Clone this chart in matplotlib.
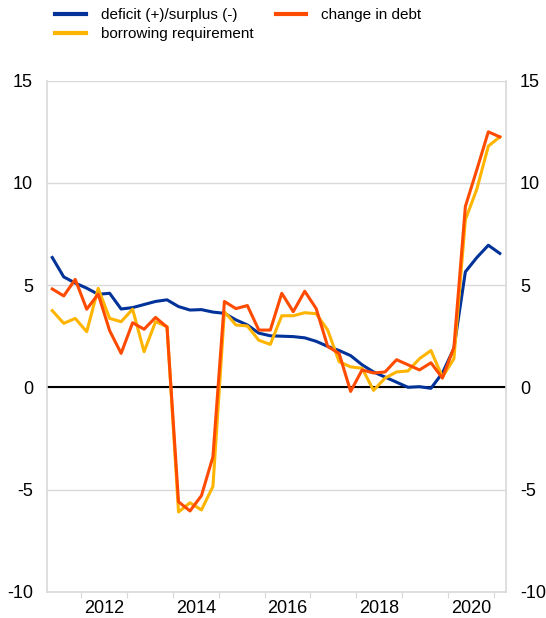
"""
Deficit, borrowing requirement and change in debt, quarterly (% of GDP).
Writes out.png (546 x 618 px).
"""

import numpy as np
import matplotlib
matplotlib.use("Agg")
import matplotlib.pyplot as plt

# ---------- data (quarterly, 2011Q2 onwards) ----------
START = 2011.375          # mid-point of the first quarter
deficit = [6.35, 5.4, 5.1, 4.85, 4.55, 4.6, 3.83, 3.9, 4.05, 4.2,
           4.28, 3.95, 3.78, 3.8, 3.68, 3.62, 3.3, 3.05, 2.65, 2.52,
           2.5, 2.48, 2.42, 2.25, 2.0, 1.8, 1.55, 1.1, 0.75, 0.5,
           0.25, 0.0, 0.03, -0.05, 0.7, 1.9, 5.65, 6.35, 6.95, 6.55]
borrowing = [3.75, 3.13, 3.37, 2.72, 4.84, 3.37, 3.21, 3.82, 1.74, 3.21,
             2.97, -6.1, -5.65, -6.0, -4.85, 3.7, 3.05, 3.0, 2.3, 2.1,
             3.5, 3.5, 3.65, 3.6, 2.8, 1.25, 1.0, 0.93, -0.15, 0.45,
             0.75, 0.8, 1.4, 1.8, 0.5, 1.4, 8.2, 9.7, 11.8, 12.25]
debt_change = [4.81, 4.47, 5.28, 3.82, 4.56, 2.77, 1.66, 3.16, 2.84, 3.42,
               2.94, -5.6, -6.05, -5.3, -3.4, 4.2, 3.85, 4.0, 2.8, 2.8,
               4.6, 3.7, 4.7, 3.85, 2.0, 1.65, -0.2, 0.85, 0.7, 0.75,
               1.35, 1.1, 0.85, 1.2, 0.45, 1.95, 8.85, 10.65, 12.5, 12.25]
year_labels = ["2012", "2014", "2016", "2018", "2020"]

BLUE = "#003299"
YELLOW = "#ffb400"
ORANGE = "#ff4b00"
GRID = "#d9d9d9"

plt.rcParams.update({"font.family": ["Liberation Sans", "DejaVu Sans"],
                     "axes.unicode_minus": False})

x = START + 0.25 * np.arange(len(deficit))

fig = plt.figure(figsize=(5.46, 6.18), dpi=100)
ax = fig.add_axes([47 / 546, 1 - 591.7 / 618, (506 - 47) / 546, (591.7 - 80.7) / 618])

ax.plot(x, deficit, color=BLUE, lw=2.2, label="deficit (+)/surplus (-)", zorder=3)
ax.plot(x, borrowing, color=YELLOW, lw=2.2, label="borrowing requirement", zorder=4)
ax.plot(x, debt_change, color=ORANGE, lw=2.2, label="change in debt", zorder=5)
ax.axhline(0, color="black", lw=1.5, zorder=2)

ax.set_ylim(-10, 15)
ax.set_xlim(2011.26, 2021.26)
ax.set_yticks(np.arange(-10, 16, 5))
ax.yaxis.grid(True, color=GRID, lw=1.0)
ax.set_axisbelow(True)

# year boundaries as ticks, labels at mid-year
ax.set_xticks(np.arange(2012, 2022))
ax.set_xticklabels([])
ax.set_xticks([int(y) + 0.5 for y in year_labels], minor=True)
ax.set_xticklabels(year_labels, minor=True)
ax.tick_params(axis="x", which="major", length=4, color=GRID)
ax.tick_params(axis="x", which="minor", length=0, labelsize=13, pad=6)
ax.tick_params(axis="y", length=0, labelsize=13, pad=10,
               labelleft=True, labelright=True)

for side in ("left", "right", "bottom"):
    ax.spines[side].set_color(GRID)
    ax.spines[side].set_linewidth(1.2)
ax.spines["top"].set_visible(False)

leg = fig.legend(loc="upper left", bbox_to_anchor=(55 / 546, 1 - 8 / 618),
                 ncol=2, frameon=False, fontsize=11, handlelength=2.0,
                 handletextpad=1.0, columnspacing=1.45, labelspacing=0.35,
                 borderpad=0, borderaxespad=0)
for line in leg.get_lines():
    line.set_linewidth(3)

fig.savefig("out.png", dpi=100)
